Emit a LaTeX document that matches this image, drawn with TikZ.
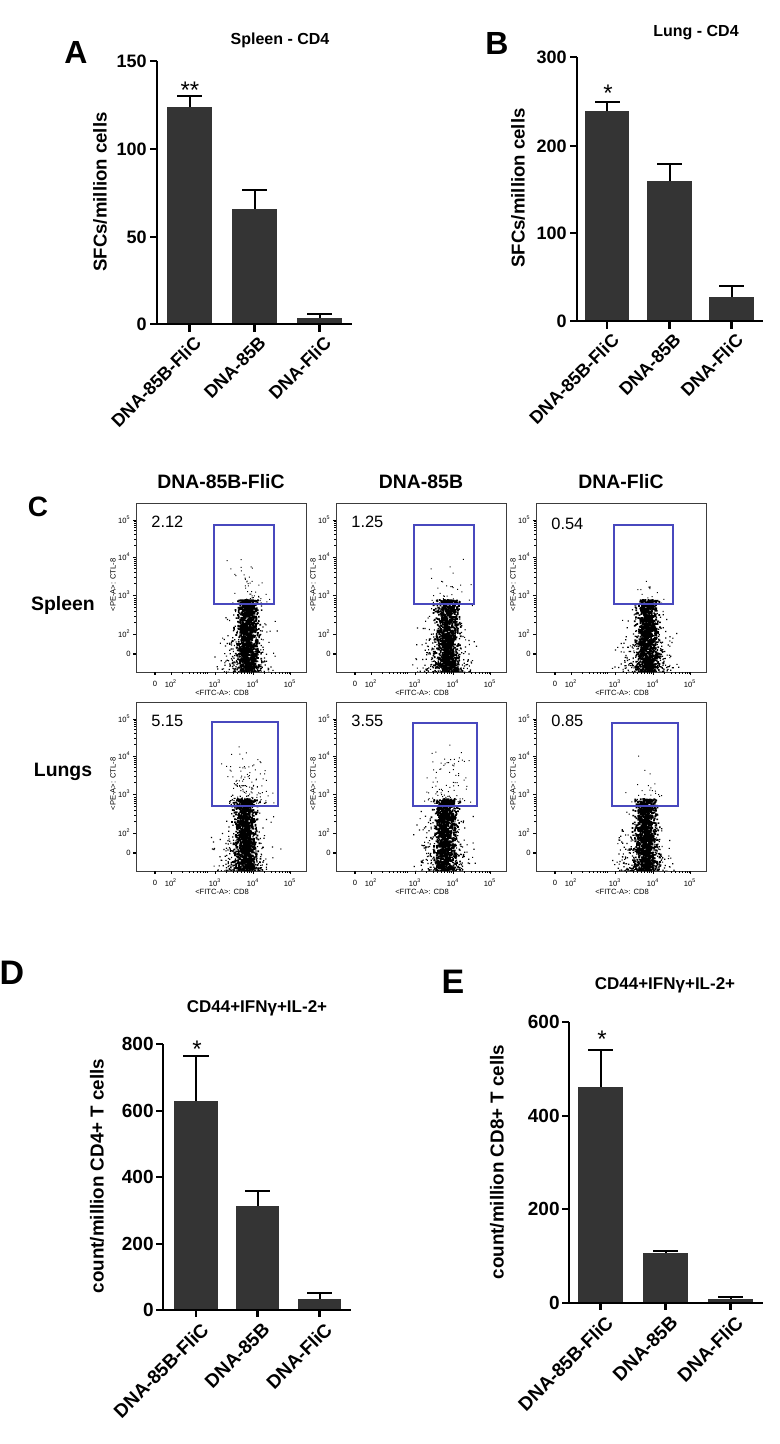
\documentclass[tikz,border=0pt]{standalone}
\usepackage{fontspec}
\setmainfont{Liberation Sans}
\definecolor{bargray}{RGB}{52,52,52}
\definecolor{gateblue}{RGB}{72,72,190}
\definecolor{framegray}{RGB}{60,60,60}
\tikzset{
  axisline/.style={line width=1.3pt},
  errline/.style={line width=1pt},
  barfill/.style={fill=bargray},
  panellab/.style={font=\fontsize{16}{16}\selectfont\bfseries},
  ticklab/.style={font=\fontsize{9}{9}\selectfont\bfseries, anchor=east, inner sep=0pt},
  ylab/.style={font=\fontsize{9.3}{9.3}\selectfont\bfseries, rotate=90},
  xlab/.style={font=\fontsize{9}{9}\selectfont\bfseries, rotate=45, anchor=north east, inner sep=0pt},
  charttitle/.style={font=\fontsize{8}{8}\selectfont\bfseries},
  starlab/.style={font=\fontsize{12}{12}\selectfont, anchor=base},
  colhead/.style={font=\fontsize{9.7}{9.7}\selectfont\bfseries},
  pct/.style={font=\fontsize{8.2}{8.2}\selectfont, anchor=west, inner sep=0pt},
  flowlab/.style={font=\fontsize{3.8}{3.8}\selectfont, inner sep=0pt},
  flowbox/.style={draw=framegray, line width=0.5pt},
  flowtick/.style={line width=0.4pt},
  gate/.style={draw=gateblue, line width=0.6pt},
  dotc/.style={fill=black}
}
% frame, ticks and tick labels of one dot plot (box 170 x 169)
\newcommand{\flowaxes}{%
  \draw[flowbox] (0,0) rectangle (170,169);
  \foreach \yy/\ee in {17/5,54/4,92/3,131/2}{
    \draw[flowtick] (-3,\yy) -- (0,\yy);
    \node[flowlab, anchor=east] (yl\ee) at (-5,\yy) {10\textsuperscript{\ee}};
  }
  \foreach \dd in {54,92,131}
    \foreach \kk in {2,...,9}
      \draw[flowtick] (-1.6,{\dd-37.5*log10(\kk)}) -- (0,{\dd-37.5*log10(\kk)});
  \draw[line width=1.2pt] (-3,151) -- (0,151);
  \node[flowlab, anchor=east] (yl0) at (-5,151) {0};
  \foreach \xx/\ee in {35/2,79/3,117/4,154/5}{
    \draw[flowtick] (\xx,169) -- (\xx,172);
    \node[flowlab] (xl\ee) at (\xx,181) {10\textsuperscript{\ee}};
  }
  \foreach \dd in {35,79,117}
    \foreach \kk in {2,...,9}
      \draw[flowtick] ({\dd+38*log10(\kk)},169) -- ({\dd+38*log10(\kk)},171);
  \draw[line width=1.2pt] (19,169) -- (19,172);
  \node[flowlab] (xl0) at (19,181) {0};
  \node[flowlab] (xname) at (86,190) {<FITC-A>: CD8};
  \node[flowlab, rotate=90] (yname) at (-23,82) {<PE-A>: CTL-8};
}
% cloud of events: #1 centre x, #2 events in gate, #3 gate height reached
\newcommand{\flowcloud}[3]{%
  \begin{scope}
  \clip (0,0) rectangle (170,169);
  \fill[dotc] foreach \k in {1,...,1000} {({#1+9*(rnd+rnd+rnd+rnd-2)},{96+73*rnd}) rectangle ++(1.7,1.7)};
  \fill[dotc] foreach \k in {1,...,380} {({#1-2+21*(rnd+rnd+rnd+rnd-2)},{169-72*rnd*rnd}) rectangle ++(1.2,1.2)};
  \fill[dotc] foreach \k in {1,...,#2} {({#1+2+17*(rnd+rnd+rnd+rnd-2)},{101-#3*rnd*rnd}) rectangle ++(1,1)};
  \end{scope}
}
\begin{document}
\begin{tikzpicture}[x=0.5pt,y=-0.5pt]
\useasboundingbox[fill=white] (0,0) rectangle (780,1444);
\pgfmathsetseed{42}

% A
\node[panellab] (A) at (76,52) {A};
\node[charttitle] (titleA) at (280,40) {Spleen - CD4};
\node[ylab] (ylabA) at (100,192) {SFCs/million cells};
\draw[errline] (189.5,107) -- (189.5,96) (177,96) -- (202,96);
\draw[errline] (254.5,209) -- (254.5,190) (242,190) -- (267,190);
\draw[errline] (319.5,318) -- (319.5,314) (307,314) -- (332,314);
\fill[barfill] (167,324) rectangle (212,107);
\fill[barfill] (232,324) rectangle (277,209);
\fill[barfill] (297,324) rectangle (342,318);
\draw[axisline] (157,61) -- (157,324) -- (352,324);
\draw[axisline] (150,61) -- (157,61) (150,149) -- (157,149) (150,237) -- (157,237) (150,324) -- (157,324);
\draw[axisline] (189.5,324) -- (189.5,332) (254.5,324) -- (254.5,332) (319.5,324) -- (319.5,332);
\node[ticklab] (a150) at (147,61) {150};
\node[ticklab] (a100) at (147,149) {100};
\node[ticklab] (a50) at (147,237) {50};
\node[ticklab] (a0) at (147,324) {0};
\node[starlab] (starA) at (190,99) {**};
\node[xlab] (xA1) at (193,335) {DNA-85B-FliC};
\node[xlab] (xA2) at (258,335) {DNA-85B};
\node[xlab] (xA3) at (323,335) {DNA-FliC};

% B
\node[panellab] (B) at (497,43) {B};
\node[charttitle] (titleB) at (696,33) {Lung - CD4};
\node[ylab] (ylabB) at (518,188) {SFCs/million cells};
\draw[errline] (607,111) -- (607,102) (595,102) -- (620,102);
\draw[errline] (669.5,181) -- (669.5,164) (657,164) -- (682,164);
\draw[errline] (731.5,297) -- (731.5,286) (719,286) -- (744,286);
\fill[barfill] (585,321) rectangle (629,111);
\fill[barfill] (647,321) rectangle (692,181);
\fill[barfill] (709,321) rectangle (754,297);
\draw[axisline] (577,57) -- (577,321) -- (763,321);
\draw[axisline] (570,57) -- (577,57) (570,146) -- (577,146) (570,233) -- (577,233) (570,321) -- (577,321);
\draw[axisline] (607,321) -- (607,329) (669.5,321) -- (669.5,329) (731.5,321) -- (731.5,329);
\node[ticklab] (b300) at (567,57) {300};
\node[ticklab] (b200) at (567,146) {200};
\node[ticklab] (b100) at (567,233) {100};
\node[ticklab] (b0) at (567,321) {0};
\node[starlab] (starB) at (608,102) {*};
\node[xlab] (xB1) at (611,332) {DNA-85B-FliC};
\node[xlab] (xB2) at (673,332) {DNA-85B};
\node[xlab] (xB3) at (735,332) {DNA-FliC};

% C
\node[panellab, font=\fontsize{14}{14}\selectfont\bfseries] (C) at (38,507) {C};
\node[colhead] (hd1) at (221,482) {DNA-85B-FliC};
\node[colhead] (hd2) at (421,482) {DNA-85B};
\node[colhead] (hd3) at (621,482) {DNA-FliC};
\node[colhead] (spleen) at (63,605) {Spleen};
\node[colhead] (lungs) at (63,772) {Lungs};

\begin{scope}[shift={(136,503)}]
\flowcloud{111}{60}{55}
\flowaxes
\draw[gate] (78,22) rectangle (138,101);
\node[pct] (p212) at (15,19) {2.12};
\end{scope}
\begin{scope}[shift={(336,503)}]
\flowcloud{111}{36}{50}
\flowaxes
\draw[gate] (78,22) rectangle (138,101);
\node[pct] (p125) at (15,19) {1.25};
\end{scope}
\begin{scope}[shift={(536,503)}]
\flowcloud{111}{16}{45}
\flowaxes
\draw[gate] (78,22) rectangle (137,101);
\node[pct] (p054) at (15,21) {0.54};
\end{scope}
\begin{scope}[shift={(136,702)}]
\flowcloud{109}{140}{65}
\flowaxes
\draw[gate] (76,20) rectangle (142,104);
\node[pct] (p515) at (15,19) {5.15};
\end{scope}
\begin{scope}[shift={(336,702)}]
\flowcloud{109}{100}{70}
\flowaxes
\draw[gate] (77,21) rectangle (141,104);
\node[pct] (p355) at (15,19) {3.55};
\end{scope}
\begin{scope}[shift={(536,702)}]
\flowcloud{109}{26}{60}
\flowaxes
\draw[gate] (76,21) rectangle (142,104);
\node[pct] (p085) at (15,19) {0.85};
\end{scope}

% D
\node[panellab, font=\fontsize{17}{17}\selectfont\bfseries] (D) at (12,973) {D};
\node[charttitle, font=\fontsize{8.5}{8.5}\selectfont\bfseries] (titleD) at (257,1008) {CD44+IFNγ+IL-2+};
\node[ylab, font=\fontsize{9.4}{9.4}\selectfont\bfseries] (ylabD) at (97,1176) {count/million CD4+ T cells};
\draw[errline] (196,1101) -- (196,1056) (183,1056) -- (209,1056);
\draw[errline] (257.5,1206) -- (257.5,1191) (245,1191) -- (270,1191);
\draw[errline] (319.5,1299) -- (319.5,1293) (307,1293) -- (332,1293);
\fill[barfill] (174,1310) rectangle (218,1101);
\fill[barfill] (236,1310) rectangle (279,1206);
\fill[barfill] (298,1310) rectangle (341,1299);
\draw[axisline] (163,1044) -- (163,1310) -- (351,1310);
\draw[axisline] (156,1044) -- (163,1044) (156,1111) -- (163,1111) (156,1177) -- (163,1177) (156,1244) -- (163,1244) (156,1310) -- (163,1310);
\draw[axisline] (196,1310) -- (196,1317) (257.5,1310) -- (257.5,1317) (319.5,1310) -- (319.5,1317);
\node[ticklab, font=\fontsize{9.5}{9.5}\selectfont\bfseries] (d800) at (154,1044) {800};
\node[ticklab, font=\fontsize{9.5}{9.5}\selectfont\bfseries] (d600) at (154,1111) {600};
\node[ticklab, font=\fontsize{9.5}{9.5}\selectfont\bfseries] (d400) at (154,1177) {400};
\node[ticklab, font=\fontsize{9.5}{9.5}\selectfont\bfseries] (d200) at (154,1244) {200};
\node[ticklab, font=\fontsize{9.5}{9.5}\selectfont\bfseries] (d0) at (154,1310) {0};
\node[starlab] (starD) at (197,1057) {*};
\node[xlab, font=\fontsize{9.5}{9.5}\selectfont\bfseries] (xD1) at (200,1321) {DNA-85B-FliC};
\node[xlab, font=\fontsize{9.5}{9.5}\selectfont\bfseries] (xD2) at (261.5,1321) {DNA-85B};
\node[xlab, font=\fontsize{9.5}{9.5}\selectfont\bfseries] (xD3) at (323.5,1321) {DNA-FliC};

% E
\node[panellab, font=\fontsize{17}{17}\selectfont\bfseries] (E) at (453,982) {E};
\node[charttitle, font=\fontsize{8.5}{8.5}\selectfont\bfseries] (titleE) at (665,985) {CD44+IFNγ+IL-2+};
\node[ylab, font=\fontsize{9.4}{9.4}\selectfont\bfseries] (ylabE) at (497,1162) {count/million CD8+ T cells};
\draw[errline] (600.5,1087) -- (600.5,1050) (588,1050) -- (613,1050);
\draw[errline] (665.5,1253) -- (665.5,1251) (653,1251) -- (678,1251);
\draw[errline] (730.5,1299) -- (730.5,1297) (718,1297) -- (743,1297);
\fill[barfill] (578,1303) rectangle (623,1087);
\fill[barfill] (643,1303) rectangle (688,1253);
\fill[barfill] (708,1303) rectangle (753,1299);
\draw[axisline] (569,1022) -- (569,1303) -- (763,1303);
\draw[axisline] (562,1022) -- (569,1022) (562,1116) -- (569,1116) (562,1209) -- (569,1209) (562,1303) -- (569,1303);
\draw[axisline] (600.5,1303) -- (600.5,1310) (665.5,1303) -- (665.5,1310) (730.5,1303) -- (730.5,1310);
\node[ticklab, font=\fontsize{9.5}{9.5}\selectfont\bfseries] (e600) at (560,1022) {600};
\node[ticklab, font=\fontsize{9.5}{9.5}\selectfont\bfseries] (e400) at (560,1116) {400};
\node[ticklab, font=\fontsize{9.5}{9.5}\selectfont\bfseries] (e200) at (560,1209) {200};
\node[ticklab, font=\fontsize{9.5}{9.5}\selectfont\bfseries] (e0) at (560,1303) {0};
\node[starlab] (starE) at (602,1047) {*};
\node[xlab, font=\fontsize{9.5}{9.5}\selectfont\bfseries] (xE1) at (604.5,1314) {DNA-85B-FliC};
\node[xlab, font=\fontsize{9.5}{9.5}\selectfont\bfseries] (xE2) at (669.5,1314) {DNA-85B};
\node[xlab, font=\fontsize{9.5}{9.5}\selectfont\bfseries] (xE3) at (734.5,1314) {DNA-FliC};
\end{tikzpicture}
\end{document}
